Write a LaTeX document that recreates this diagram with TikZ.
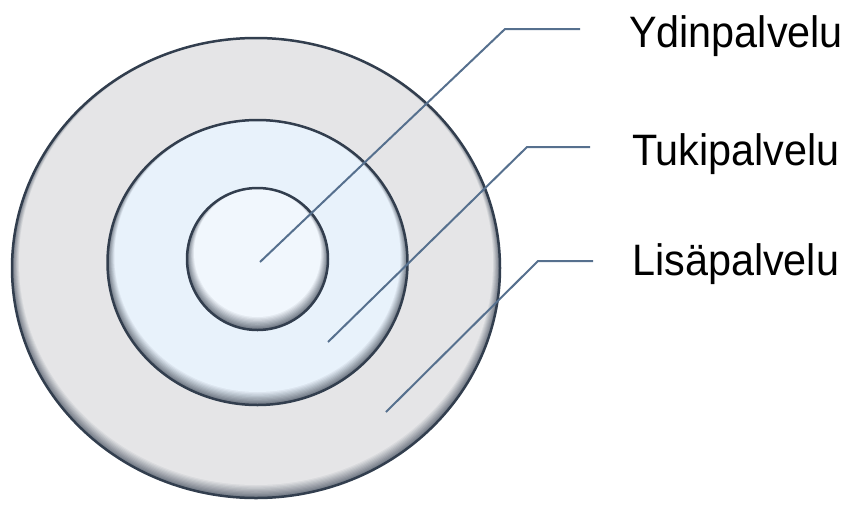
\documentclass[tikz,border=0pt]{standalone}
\usepackage{fontspec}
\setmainfont{Liberation Sans}
\definecolor{rim}{RGB}{50,62,78}
\definecolor{bevel}{RGB}{110,118,130}
\definecolor{outerfill}{RGB}{229,229,231}
\definecolor{midfill}{RGB}{232,242,251}
\definecolor{corefill}{RGB}{241,247,253}
\definecolor{leader}{RGB}{86,112,142}
\begin{document}
\begin{tikzpicture}[x=1pt,y=-1pt,
  leaderline/.style={leader,line width=2pt},
  lbl/.style={anchor=base west,inner sep=0pt,xscale=0.94,font=\fontsize{44}{48}\selectfont}]
  \useasboundingbox (0,0) rectangle (851,504);
  % kiekot: ulkoa sisaan, alareunassa varjostus
  \foreach \cx/\cy/\rx/\ry/\col in {256/268/244/230/outerfill,
      257.5/262.5/150/142.5/midfill, 257.5/259/70.5/71/corefill}{
    \fill[bevel] (\cx,\cy) ellipse[x radius=\rx pt,y radius=\ry pt];
    \foreach \k in {1,...,10}{
      \pgfmathtruncatemacro{\mix}{10*\k}
      \pgfmathsetmacro{\ax}{\rx-0.7*\k}
      \pgfmathsetmacro{\ay}{\ry-0.7*\k}
      \fill[\col!\mix!bevel] (\cx,\cy-0.6*\k) ellipse[x radius=\ax pt,y radius=\ay pt];
    }
    \draw[rim,line width=2.5pt] (\cx,\cy) ellipse[x radius=\rx pt,y radius=\ry pt];
  }
  % osoitinpisteet
  \coordinate (ydinpt) at (260,262);
  \coordinate (tukipt) at (328,342);
  \coordinate (lisapt) at (386,412);
  \coordinate (ydinknee) at (505,29);
  \coordinate (tukiknee) at (527,147);
  \coordinate (lisaknee) at (538,261);
  \coordinate (ydinend) at (580,29);
  \coordinate (tukiend) at (590,147);
  \coordinate (lisaend) at (593,261);
  % tekstit
  \node[lbl] (ydin) at (629,47) {Ydinpalvelu};
  \node[lbl] (tuki) at (632,165) {Tukipalvelu};
  \node[lbl] (lisa) at (632,275) {Lisäpalvelu};
  % viivat
  \draw[leaderline] (ydinpt)--(ydinknee)--(ydinend);
  \draw[leaderline] (tukipt)--(tukiknee)--(tukiend);
  \draw[leaderline] (lisapt)--(lisaknee)--(lisaend);
\end{tikzpicture}
\end{document}
